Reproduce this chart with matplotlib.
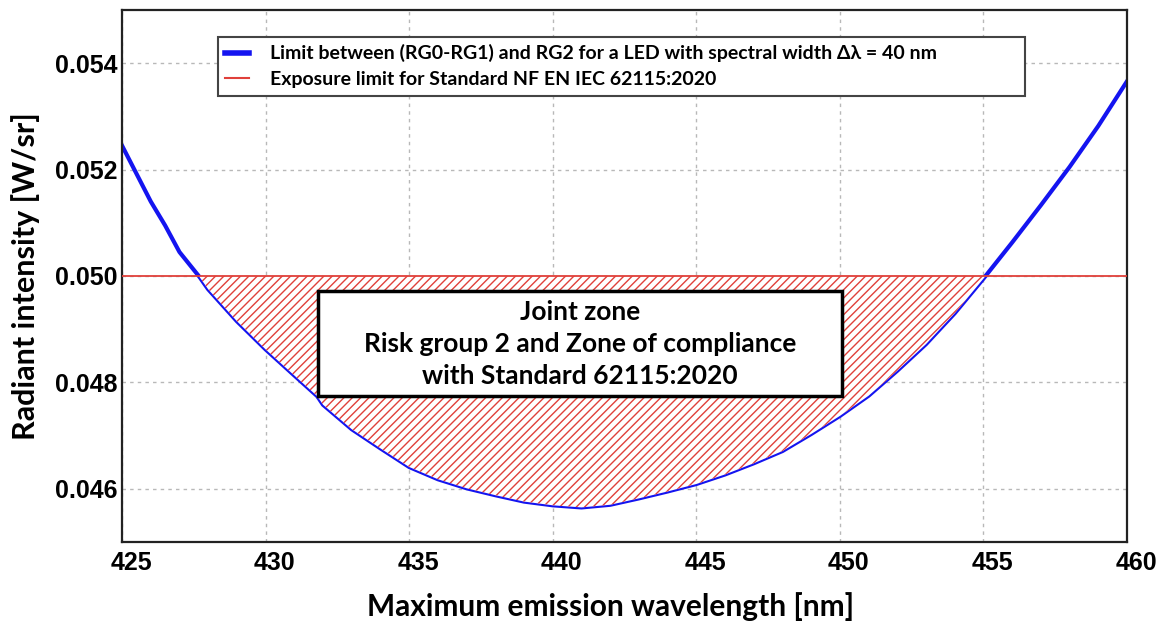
import numpy as np
import matplotlib.pyplot as plt
from matplotlib.patches import Rectangle
from matplotlib.transforms import ScaledTranslation

# wavelength [nm] and radiant intensity [W/sr]
wavelength = [425, 426, 426.5, 427, 427.7, 428, 429, 430, 431, 431.8, 432, 433, 434,
              435, 436, 437, 438, 439, 440, 441, 442, 443, 444, 445, 446, 447,
              448, 449, 450, 451, 452, 453, 454, 455, 456, 457, 458, 459, 460]
intensity = [0.05245, 0.05140, 0.05095, 0.05045, 0.04998, 0.04975, 0.04915, 0.04862,
             0.04813, 0.04774, 0.04758, 0.04712, 0.04676, 0.04641, 0.04618, 0.04601,
             0.04588, 0.04576, 0.04569, 0.04565, 0.04570, 0.04582, 0.04595, 0.04609,
             0.04627, 0.04648, 0.04671, 0.04703, 0.04737, 0.04775, 0.04822, 0.04872,
             0.04930, 0.04995, 0.05063, 0.05133, 0.05205, 0.05282, 0.05366]
exposure_limit = 0.050

x_ticks = [425, 430, 435, 440, 445, 450, 455, 460]
y_ticks = [0.046, 0.048, 0.050, 0.052, 0.054]

label_curve = "Limit between (RG0-RG1) and RG2 for a LED with spectral width \u0394\u03bb = 40 nm"
label_limit = "Exposure limit for Standard NF EN IEC 62115:2020"
zone_text = "Joint zone\nRisk group 2 and Zone of compliance\nwith Standard 62115:2020"

RED = '#e0403a'
BLUE = '#1414f0'

plt.rcParams['hatch.linewidth'] = 1.0
plt.rcParams['hatch.color'] = RED

fig = plt.figure(figsize=(11.68, 6.23), dpi=100)
ax = fig.add_axes([0.1045, 0.130, 0.8604, 0.854])

wl = np.array(wavelength)
ri = np.array(intensity)

# curve first, the hatched zone sits on top of its inner half
ax.plot(wl, ri, color=BLUE, lw=3, label=label_curve, zorder=2)
ax.fill_between(wl, ri, exposure_limit, where=ri <= exposure_limit + 1e-9,
                facecolor='white', edgecolor=RED, hatch='////',
                linewidth=0, interpolate=True, zorder=3)
ax.axhline(exposure_limit, color=RED, lw=1.3, label=label_limit, zorder=4)

ax.set_xlim(425, 460)
ax.set_ylim(0.045, 0.055)
ax.set_xticks(x_ticks)
ax.set_yticks(y_ticks)
ax.set_xticklabels([str(t) for t in x_ticks], fontsize=18, fontweight='bold',
                   family='Liberation Sans')
ax.set_yticklabels([f"{t:.3f}" for t in y_ticks], fontsize=18, fontweight='bold',
                   family='Liberation Sans')
ax.tick_params(length=0)
ax.tick_params(axis='x', pad=6.5)
ax.tick_params(axis='y', pad=3.5)
# x labels sit a bit to the right of their grid lines in the original
shift = ScaledTranslation(0.09, 0, fig.dpi_scale_trans)
for lab in ax.get_xticklabels():
    lab.set_transform(lab.get_transform() + shift)

ax.grid(True, color='#b8b8b8', linestyle=(0, (2.5, 3)), lw=1)
ax.set_axisbelow(True)
for s in ax.spines.values():
    s.set_linewidth(1.6)
    s.set_color('#222222')

ax.set_ylabel("Radiant intensity [W/sr]", fontsize=22, fontweight='bold', family='Lato')
ax.yaxis.set_label_coords(-0.082, 0.5)
ax.set_xlabel("Maximum emission wavelength [nm]", fontsize=21.5, fontweight='bold', family='Lato')
ax.xaxis.set_label_coords(0.486, -0.094)

# joint zone label box
ax.add_patch(Rectangle((431.83, 0.04774), 450.08 - 431.83, 0.04972 - 0.04774,
                       facecolor='white', edgecolor='black', lw=2.5, zorder=6))
ax.text(440.95, 0.04873, zone_text, ha='center', va='center', fontsize=19,
        fontweight='bold', family='Lato', linespacing=1.4, zorder=7)

handles, labels = ax.get_legend_handles_labels()
leg = ax.legend(handles, labels, loc='upper left', mode='expand',
                bbox_to_anchor=(0.0955, 0.5, 0.803, 0.4492), borderaxespad=0,
                prop={'family': 'Lato', 'weight': 'bold', 'size': 14},
                fancybox=False, framealpha=1, edgecolor='#444444', handlelength=1.2,
                handletextpad=1.1, borderpad=0.38, labelspacing=0.45)
leg.get_frame().set_linewidth(1.5)
leg.get_lines()[0].set_linewidth(4)
leg.get_lines()[1].set_linewidth(1.5)
leg.set_zorder(8)

fig.savefig("out.png", dpi=100)
